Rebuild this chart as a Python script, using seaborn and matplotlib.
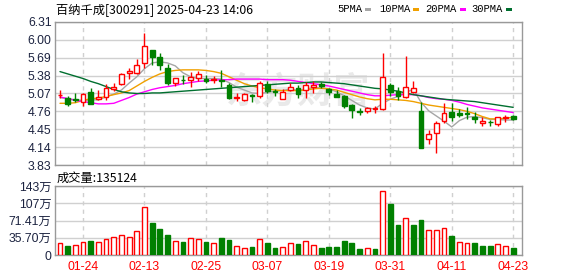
import numpy as np
import pandas as pd
import matplotlib
matplotlib.use("Agg")
import matplotlib.pyplot as plt
from matplotlib.patches import Rectangle
import seaborn as sns

# ---------------- data ----------------
title = "百纳千成[300291] 2025-04-23 14:06"
vol_title = "成交量:135124"

opens = [5.04, 5.00, 4.97, 4.92, 5.10, 4.97, 5.01, 5.14, 5.24, 5.42,
         5.43, 5.595, 5.825, 5.70, 5.51, 5.25, 5.31, 5.31, 5.34, 5.33,
         5.30, 5.31, 5.21, 5.00, 4.96, 5.04, 5.03, 5.23, 5.11, 4.98,
         5.13, 5.16, 5.13, 5.18, 5.24, 5.14, 5.06, 5.02, 4.87, 4.76,
         4.77, 4.80, 4.80, 5.22, 5.11, 5.005, 5.10, 4.77, 4.28, 4.38,
         4.60, 4.75, 4.74, 4.73, 4.655, 4.555, 4.58, 4.54, 4.645, 4.675]
closes = [5.05, 4.89, 4.95, 5.06, 4.88, 5.01, 5.17, 5.19, 5.41, 5.46,
          5.57, 5.895, 5.71, 5.56, 5.255, 5.335, 5.30, 5.35, 5.41, 5.29,
          5.32, 5.29, 5.00, 5.01, 5.055, 5.03, 5.25, 5.12, 5.10, 5.10,
          5.18, 5.06, 5.21, 5.21, 5.20, 5.10, 5.01, 4.85, 4.78, 4.75,
          4.82, 4.81, 5.36, 5.10, 5.02, 5.18, 5.16, 4.13, 4.36, 4.56,
          4.73, 4.66, 4.70, 4.71, 4.625, 4.597, 4.57, 4.655, 4.655, 4.63]
highs = [5.13, 5.02, 5.07, 5.07, 5.17, 5.13, 5.23, 5.25, 5.43, 5.51,
         5.67, 6.125, 5.83, 5.78, 5.59, 5.335, 5.39, 5.44, 5.46, 5.39,
         5.38, 5.48, 5.25, 5.07, 5.075, 5.06, 5.29, 5.29, 5.14, 5.14,
         5.25, 5.21, 5.27, 5.28, 5.27, 5.17, 5.13, 5.04, 4.89, 4.81,
         4.84, 4.85, 5.77, 5.26, 5.18, 5.72, 5.29, 4.92, 4.44, 4.59,
         4.91, 4.90, 4.80, 4.83, 4.75, 4.655, 4.61, 4.66, 4.70, 4.70]
lows = [5.00, 4.86, 4.93, 4.85, 4.88, 4.96, 4.96, 5.12, 5.22, 5.32,
        5.41, 5.51, 5.56, 5.48, 5.22, 5.20, 5.23, 5.18, 5.28, 5.25,
        5.26, 5.18, 4.97, 4.945, 4.94, 4.93, 5.00, 5.08, 5.03, 4.975,
        5.11, 5.00, 5.00, 5.07, 5.17, 5.04, 5.01, 4.82, 4.64, 4.70,
        4.74, 4.74, 4.78, 5.03, 4.96, 5.00, 5.08, 4.13, 4.20, 4.04,
        4.556, 4.59, 4.66, 4.63, 4.555, 4.51, 4.50, 4.51, 4.57, 4.61]

ma5 = [5.00, 4.98, 4.96, 4.95, 4.96, 4.96, 5.01, 5.06, 5.13, 5.25,
       5.36, 5.50, 5.60, 5.62, 5.60, 5.55, 5.43, 5.36, 5.33, 5.33,
       5.33, 5.32, 5.26, 5.18, 5.13, 5.08, 5.07, 5.09, 5.11, 5.12,
       5.15, 5.12, 5.15, 5.17, 5.17, 5.15, 5.10, 5.03, 4.95, 4.87,
       4.82, 4.80, 4.90, 4.97, 5.02, 5.09, 5.14, 4.92, 4.77, 4.68,
       4.59, 4.49, 4.60, 4.66, 4.67, 4.65, 4.62, 4.62, 4.61, 4.61]
ma10 = [4.90, 4.90, 4.91, 4.95, 4.98, 4.99, 5.02, 5.05, 5.08, 5.12,
        5.20, 5.28, 5.35, 5.41, 5.45, 5.47, 5.48, 5.48, 5.48, 5.47,
        5.45, 5.42, 5.36, 5.30, 5.24, 5.20, 5.17, 5.15, 5.13, 5.12,
        5.12, 5.12, 5.13, 5.15, 5.16, 5.15, 5.13, 5.09, 5.05, 5.01,
        4.98, 4.96, 4.97, 4.97, 4.96, 4.95, 4.93, 4.90, 4.87, 4.85,
        4.83, 4.81, 4.79, 4.76, 4.72, 4.67, 4.63, 4.63, 4.64, 4.66]
ma20 = [5.01, 4.98, 4.95, 4.93, 4.91, 4.89, 4.89, 4.90, 4.95, 5.00,
        5.06, 5.10, 5.14, 5.17, 5.19, 5.21, 5.24, 5.26, 5.28, 5.29,
        5.30, 5.31, 5.31, 5.32, 5.32, 5.32, 5.32, 5.31, 5.31, 5.31,
        5.30, 5.28, 5.26, 5.24, 5.22, 5.20, 5.17, 5.14, 5.11, 5.08,
        5.05, 5.03, 5.03, 5.04, 5.05, 5.05, 5.05, 5.03, 5.00, 4.98,
        4.97, 4.95, 4.92, 4.88, 4.85, 4.82, 4.80, 4.78, 4.76, 4.74]
ma30 = [5.45, 5.41, 5.37, 5.33, 5.28, 5.24, 5.19, 5.14, 5.10, 5.08,
        5.07, 5.07, 5.08, 5.08, 5.09, 5.10, 5.11, 5.12, 5.13, 5.14,
        5.15, 5.16, 5.17, 5.18, 5.19, 5.20, 5.21, 5.22, 5.23, 5.24,
        5.25, 5.25, 5.26, 5.27, 5.27, 5.26, 5.25, 5.24, 5.22, 5.20,
        5.18, 5.16, 5.15, 5.13, 5.11, 5.08, 5.05, 5.03, 5.01, 4.99,
        4.97, 4.96, 4.95, 4.94, 4.93, 4.91, 4.89, 4.87, 4.85, 4.83]

volumes = [24.7, 19.2, 20.6, 26.8, 29.5, 27.5, 33.0, 37.1, 40.5, 37.1,
           50.1, 98.9, 66.6, 54.2, 41.9, 28.8, 27.5, 35.0, 33.0, 27.5,
           24.7, 35.7, 31.6, 18.5, 14.4, 17.2, 33.0, 25.4, 15.1, 16.5,
           24.7, 23.3, 28.8, 20.6, 15.1, 17.2, 17.2, 29.5, 25.4, 13.0,
           14.4, 13.0, 131.8, 105.7, 62.5, 76.2, 62.5, 72.8, 52.2, 52.2,
           55.6, 39.8, 26.8, 24.7, 24.7, 19.2, 19.2, 22.7, 18.5, 13.5]
vol_up = [1, 0, 1, 1, 0, 1, 1, 1, 1, 1,
          1, 1, 0, 0, 0, 1, 0, 1, 1, 0,
          1, 0, 0, 1, 1, 0, 1, 0, 0, 1,
          1, 0, 1, 1, 0, 0, 0, 0, 0, 0,
          1, 0, 1, 0, 0, 1, 0, 0, 1, 1,
          1, 0, 1, 1, 0, 0, 0, 1, 1, 0]

date_labels = ["01-24", "02-13", "02-25", "03-07", "03-19", "03-31", "04-11", "04-23"]
date_index = [3, 11, 19, 27, 35, 43, 51, 59]

price_ticks = [3.83, 4.14, 4.45, 4.76, 5.07, 5.38, 5.69, 6.00, 6.31]
vol_ticks = [0, 35.70, 71.41, 107.11, 142.82]
vol_tick_labels = ["0", "35.70万", "71.41万", "107万", "143万"]

ma_names = ["5PMA", "10PMA", "20PMA", "30PMA"]
ma_colors = ["#a6a6a6", "#f0a000", "#ff00ff", "#006f2f"]

# ---------------- style ----------------
sns.set_style("white")
plt.rcParams["font.family"] = ["Noto Sans CJK SC", "DejaVu Sans"]

RED = "#ff0000"
GREEN = "#008000"
GRID = "#d0d0d0"
SPINE = "#999999"
TICKC = "#1c2340"

W, H = 578, 276
fig = plt.figure(figsize=(W / 100, H / 100), dpi=100)
fig.patch.set_facecolor("white")


def fx(px):
    return px / W


def fy(py):
    return 1 - py / H


L, R = 55, 522
ax = fig.add_axes([fx(L), fy(165), fx(R - L), (165 - 22) / H])
axv = fig.add_axes([fx(L), fy(255), fx(R - L), (255 - 186) / H])

n = len(closes)
x = np.arange(n)
xlim = (-0.65, 60.15)

# watermark
ax.text(31.0, 5.10, "东方财富", fontsize=26, color="#e9e9e9", fontweight="bold",
        ha="center", va="center", zorder=0.5)

# ---- candles ----
o = np.array(opens); c = np.array(closes); h = np.array(highs); l = np.array(lows)
up = c >= o
cols = np.where(up, RED, GREEN)
ax.vlines(x, l, h, colors=cols, linewidth=1.0, zorder=3)
body_bottom = np.minimum(o, c)
body_h = np.maximum(np.abs(c - o), 0.004)
ax.bar(x, body_h, bottom=body_bottom, width=0.62,
       color=np.where(up, "white", GREEN), edgecolor=cols, linewidth=1.0, zorder=4)

# ---- moving averages with seaborn ----
ma_df = pd.DataFrame({
    "idx": np.tile(x, 4),
    "value": np.concatenate([ma5, ma10, ma20, ma30]),
    "ma": np.repeat(ma_names, n),
})
sns.lineplot(data=ma_df, x="idx", y="value", hue="ma", palette=dict(zip(ma_names, ma_colors)),
             hue_order=ma_names, linewidth=1.0, legend=False, ax=ax, zorder=2)

ax.set_xlim(*xlim)
ax.set_ylim(3.83, 6.31)
ax.set_yticks(price_ticks)
ax.set_yticklabels([f"{v:.2f}" for v in price_ticks])
ax.set_xticks([])
ax.set_xlabel(""); ax.set_ylabel("")

# ---- volume bars ----
vu = np.array(vol_up).astype(bool)
vcols = np.where(vu, RED, GREEN)
axv.bar(x, volumes, width=0.62, color=np.where(vu, "white", GREEN), edgecolor=vcols,
        linewidth=1.0, zorder=3)
axv.set_xlim(*xlim)
axv.set_ylim(0, 142.82)
axv.set_yticks(vol_ticks)
axv.set_yticklabels(vol_tick_labels)
axv.set_xticks(date_index)
axv.set_xticklabels(date_labels)

for a in (ax, axv):
    for s in a.spines.values():
        s.set_color(SPINE)
        s.set_linewidth(1.0)
    a.set_axisbelow(True)
    for yv in a.get_yticks():
        a.axhline(yv, color=GRID, linewidth=1.0, zorder=1)
    for xv in date_index:
        a.axvline(xv, color=GRID, linewidth=1.0, linestyle=(0, (3, 3)), zorder=1)
    a.tick_params(axis="y", length=0, pad=2.5, labelsize=8.8, labelcolor=TICKC)
    for t in a.get_yticklabels():
        t.set_family(["Liberation Sans", "Noto Sans CJK SC"])

axv.tick_params(axis="x", length=0, pad=4, labelsize=8.8, labelcolor=RED)
for t in axv.get_xticklabels():
    t.set_family(["Liberation Sans"])

# ---- texts ----
fig.text(fx(56), fy(9.5), title, fontsize=8.8, color="black", va="center", ha="left")
fig.text(fx(57), fy(178.5), vol_title, fontsize=8.8, color="black", va="center", ha="left")

leg_text_x = [337, 379, 425, 471]
leg_mark_x = [365, 413, 460, 506]
for name, col, tx, mx in zip(ma_names, ma_colors, leg_text_x, leg_mark_x):
    fig.text(fx(tx), fy(9.5), name, fontsize=7.6, color="black", va="center", ha="left",
             family=["Liberation Mono", "DejaVu Sans Mono"])
    fig.add_artist(Rectangle((fx(mx), fy(11)), 6 / W, 3.5 / H, transform=fig.transFigure,
                             facecolor=col, edgecolor="none"))

fig.savefig("out.png", dpi=100, facecolor="white")
